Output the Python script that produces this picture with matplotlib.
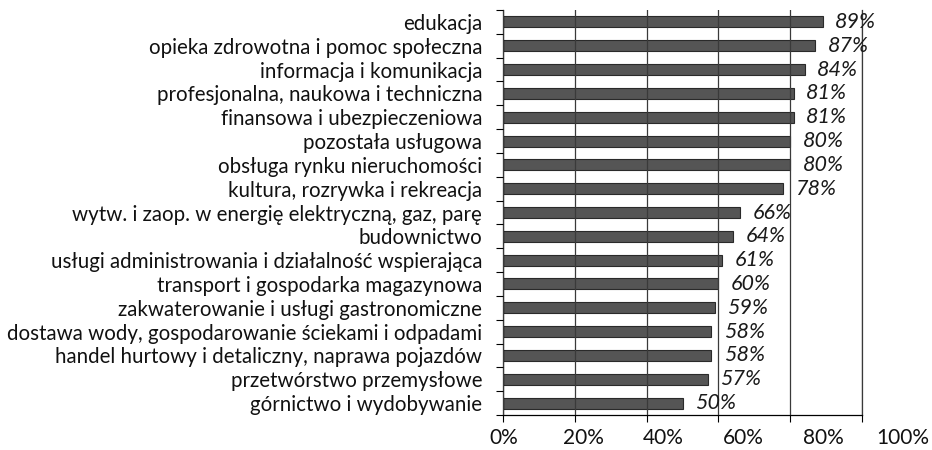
import matplotlib
matplotlib.use("Agg")
import matplotlib.pyplot as plt
import numpy as np

categories = [
    "edukacja",
    "opieka zdrowotna i pomoc społeczna",
    "informacja i komunikacja",
    "profesjonalna, naukowa i techniczna",
    "finansowa i ubezpieczeniowa",
    "pozostała usługowa",
    "obsługa rynku nieruchomości",
    "kultura, rozrywka i rekreacja",
    "wytw. i zaop. w energię elektryczną, gaz, parę",
    "budownictwo",
    "usługi administrowania i działalność wspierająca",
    "transport i gospodarka magazynowa",
    "zakwaterowanie i usługi gastronomiczne",
    "dostawa wody, gospodarowanie ściekami i odpadami",
    "handel hurtowy i detaliczny, naprawa pojazdów",
    "przetwórstwo przemysłowe",
    "górnictwo i wydobywanie",
]
values = [89, 87, 84, 81, 81, 80, 80, 78, 66, 64, 61, 60, 59, 58, 58, 57, 50]
x_ticks = [0, 20, 40, 60, 80, 100]
x_tick_labels = ["0%", "20%", "40%", "60%", "80%", "100%"]

plt.rcParams['font.family'] = ['Lato', 'DejaVu Sans']

W, H = 932, 450
fig = plt.figure(figsize=(W / 100, H / 100), dpi=100)
ax_l, ax_r, ax_t, ax_b = 503, 862, 10, 415
ax = fig.add_axes([ax_l / W, 1 - ax_b / H, (ax_r - ax_l) / W, (ax_b - ax_t) / H])

n = len(categories)
y = np.arange(n)
ax.barh(y, values, height=0.46, color='#555555', edgecolor='#2a2a2a', linewidth=0.8, zorder=1)

for yi, v in zip(y, values):
    ax.annotate(f"{v}%", xy=(v, yi), xytext=(9, 0), textcoords='offset points',
                ha='left', va='center', fontsize=15.5, style='italic', color='#1a1a1a', zorder=3)

ax.set_xlim(0, 100)
ax.set_ylim(n - 0.5, -0.5)

ax.set_xticks(x_ticks)
ax.set_xticklabels([])
ax.tick_params(axis='x', length=5, width=0.8, color='black', direction='out')
ax.xaxis.grid(True, color='#3a3a3a', linewidth=0.9, zorder=2)
ax.set_axisbelow(False)

ax.set_yticks(y)
ax.set_yticklabels(categories, fontsize=14.8, color='#111111')
ax.tick_params(axis='y', which='major', length=0, pad=15)
ax.set_yticks(np.arange(-0.5, n, 1.0), minor=True)
ax.tick_params(axis='y', which='minor', length=5, width=0.8, direction='out', color='black')

ax.spines['top'].set_visible(False)
ax.spines['right'].set_color('#3a3a3a')
ax.spines['right'].set_linewidth(0.9)
for s in ['left', 'bottom']:
    ax.spines[s].set_color('black')
    ax.spines[s].set_linewidth(0.9)

# the percentage labels in the reference sit on a slightly wider scale than the gridlines
lab_l, lab_r = 504, 903
lax = fig.add_axes([lab_l / W, 1 - ax_b / H, (lab_r - lab_l) / W, 0.001])
lax.set_xlim(0, 100)
lax.set_xticks(x_ticks)
lax.set_xticklabels(x_tick_labels, fontsize=15, color='#111111')
lax.tick_params(axis='x', length=0, pad=9)
lax.set_yticks([])
lax.patch.set_visible(False)
for s in lax.spines.values():
    s.set_visible(False)

fig.savefig("out.png", dpi=100)
